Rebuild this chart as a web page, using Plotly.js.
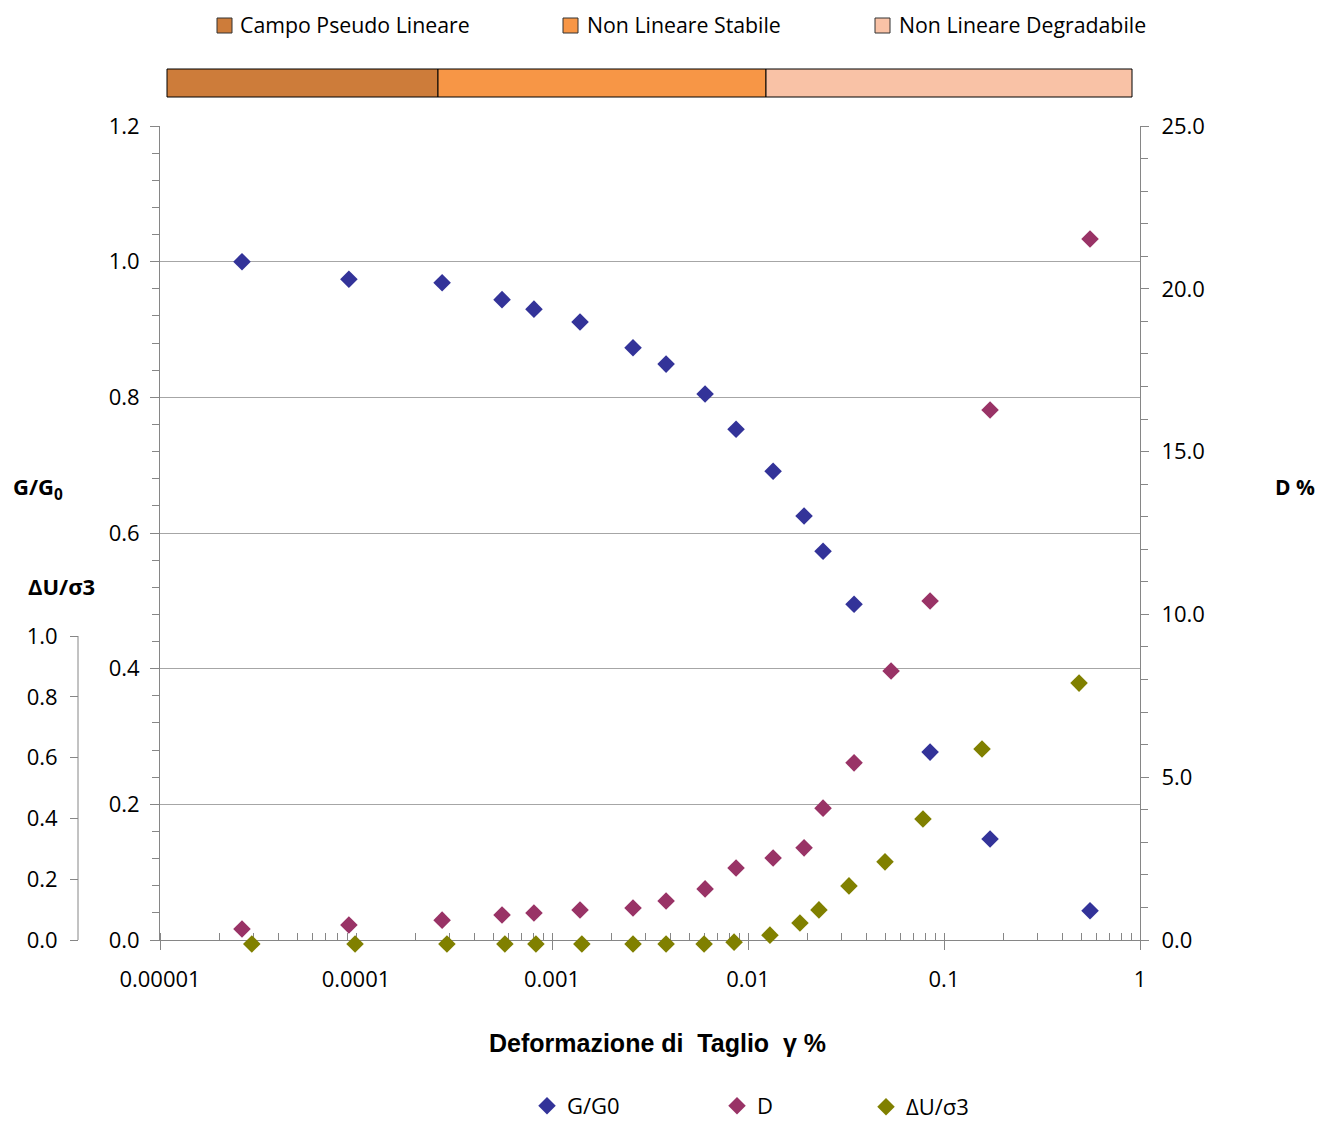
<!DOCTYPE html>
<html>
<head>
<meta charset="utf-8">
<script src="https://cdn.plot.ly/plotly-3.0.1.min.js"></script>
<style>html,body{margin:0;padding:0;background:#fff;}#chart{width:1321px;height:1121px;}</style>
</head>
<body>
<div id="chart"></div>
<script>
// ---- Data ----
const gX = [2.62e-5, 9.2e-5, 2.75e-4, 5.56e-4, 8.09e-4, 1.39e-3, 2.59e-3, 3.82e-3, 6.04e-3, 8.69e-3, 0.01343, 0.01932, 0.02415, 0.03476, 0.0849, 0.1718, 0.556];
const gY = [1.000, 0.974, 0.969, 0.944, 0.930, 0.911, 0.873, 0.849, 0.805, 0.753, 0.691, 0.625, 0.573, 0.495, 0.277, 0.149, 0.043];

const dX = [2.62e-5, 9.2e-5, 2.75e-4, 5.56e-4, 8.09e-4, 1.39e-3, 2.59e-3, 3.82e-3, 6.04e-3, 8.69e-3, 0.01343, 0.01932, 0.02415, 0.03476, 0.0537, 0.0849, 0.1718, 0.556];
const dY = [0.34, 0.46, 0.61, 0.77, 0.83, 0.92, 0.98, 1.20, 1.57, 2.21, 2.52, 2.83, 4.05, 5.44, 8.26, 10.41, 16.28, 21.53];

const uX = [2.94e-5, 9.89e-5, 2.91e-4, 5.75e-4, 8.28e-4, 1.42e-3, 2.59e-3, 3.82e-3, 5.97e-3, 8.49e-3, 0.01294, 0.01841, 0.02301, 0.03275, 0.0500, 0.07811, 0.1563, 0.4887];
const uY = [-0.013, -0.013, -0.013, -0.013, -0.013, -0.013, -0.013, -0.013, -0.013, -0.007, 0.016, 0.056, 0.099, 0.178, 0.257, 0.398, 0.628, 0.845];

const xTickVals = [1e-5, 1e-4, 1e-3, 1e-2, 1e-1, 1];
const xTickText = ['0.00001', '0.0001', '0.001', '0.01', '0.1', '1'];
const uTickVals = [0, 0.2, 0.4, 0.6, 0.8, 1.0];

const seriesNames = ['G/G0', 'D', 'ΔU/σ3'];
const seriesColors = ['#333399', '#993366', '#808000'];

const bandNames = ['Campo Pseudo Lineare', 'Non Lineare Stabile', 'Non Lineare Degradabile'];
const bandColors = ['#CD7C3A', '#F79646', '#F9C2A6'];

// ---- Layout helpers (pixel -> paper) ----
const W = 1321, H = 1121;
const px = v => v / W;
const py = v => (H - v) / H;

const tickFont = {family: 'Open Sans, sans-serif', size: 22, color: '#000'};
const axisGray = '#868686';

const mk = (i) => ({symbol: 'diamond', size: 13.5, color: seriesColors[i], line: {width: 0}});

const traces = [
  {x: gX, y: gY, name: seriesNames[0], type: 'scatter', mode: 'markers', marker: mk(0), xaxis: 'x', yaxis: 'y', cliponaxis: false, legend: 'legend'},
  {x: dX, y: dY, name: seriesNames[1], type: 'scatter', mode: 'markers', marker: mk(1), xaxis: 'x', yaxis: 'y2', cliponaxis: false, legend: 'legend2'},
  {x: uX, y: uY, name: seriesNames[2], type: 'scatter', mode: 'markers', marker: mk(2), xaxis: 'x', yaxis: 'y3', cliponaxis: false, legend: 'legend3'}
];

// band geometry (pixels)
const bandEdges = [167, 438, 766, 1132];
const bandTop = 69, bandBot = 97;
const legSq = [[217, 232], [563, 578], [875, 890]];
const legTextX = [238, 585, 897];

// ΔU axis: 0 at y=940px, 1 at y=636px; range starts slightly below 0 so near-zero points stay visible
const uAxisTop = 636, uAxisZero = 940, uMin = -0.05;
const uAxisBottom = uAxisZero + (-uMin) * (uAxisZero - uAxisTop);

const shapes = [];
const annotations = [];
for (let i = 0; i < 3; i++) {
  shapes.push({type: 'rect', xref: 'paper', yref: 'paper', x0: px(bandEdges[i]), x1: px(bandEdges[i + 1]), y0: py(bandBot), y1: py(bandTop), fillcolor: bandColors[i], line: {color: '#000', width: 1}});
  shapes.push({type: 'rect', xref: 'paper', yref: 'paper', x0: px(legSq[i][0]), x1: px(legSq[i][1]), y0: py(33), y1: py(18), fillcolor: bandColors[i], line: {color: '#333', width: 1}});
  annotations.push({xref: 'paper', yref: 'paper', x: px(legTextX[i]), y: py(25), xanchor: 'left', yanchor: 'middle', showarrow: false, text: bandNames[i], font: {family: 'Open Sans, sans-serif', size: 21.3, color: '#000'}});
}
// ΔU axis line (only from 0 to 1)
shapes.push({type: 'line', xref: 'paper', yref: 'paper', x0: px(78), x1: px(78), y0: py(uAxisZero), y1: py(uAxisTop), line: {color: axisGray, width: 1}});

annotations.push({xref: 'paper', yref: 'paper', x: px(38), y: py(488), xanchor: 'center', yanchor: 'middle', showarrow: false, text: '<b>G/G<sub>0</sub></b>', font: {family: 'Open Sans, sans-serif', size: 22, color: '#000'}});
annotations.push({xref: 'paper', yref: 'paper', x: px(61), y: py(586), xanchor: 'center', yanchor: 'middle', showarrow: false, text: '<b>ΔU/σ3</b>', font: {family: 'Open Sans, sans-serif', size: 22, color: '#000'}});
annotations.push({xref: 'paper', yref: 'paper', x: px(1295), y: py(487), xanchor: 'center', yanchor: 'middle', showarrow: false, text: '<b>D %</b>', font: {family: 'Open Sans, sans-serif', size: 21, color: '#000'}});
annotations.push({xref: 'paper', yref: 'paper', x: px(657), y: py(1043), xanchor: 'center', yanchor: 'middle', showarrow: false, text: '<b>Deformazione di\u00a0 Taglio\u00a0 γ %</b>', font: {family: 'Liberation Sans, Arial, sans-serif', size: 25, color: '#000'}});

const legendBase = {orientation: 'h', yanchor: 'middle', xanchor: 'left', font: {family: 'Open Sans, sans-serif', size: 22, color: '#000'}, bgcolor: 'rgba(0,0,0,0)', borderwidth: 0};

const layout = {
  width: W, height: H,
  margin: {l: 0, r: 0, t: 0, b: 0, pad: 0, autoexpand: false},
  paper_bgcolor: '#fff', plot_bgcolor: 'rgba(0,0,0,0)',
  showlegend: true,
  xaxis: {
    type: 'log', range: [-5, 0], domain: [px(160), px(1140)], anchor: 'y',
    tickmode: 'array', tickvals: xTickVals, ticktext: xTickText,
    showline: true, linecolor: axisGray, linewidth: 1,
    ticks: 'outside', ticklen: 9, tickcolor: axisGray, tickwidth: 1,
    showgrid: false, zeroline: false, tickfont: tickFont, ticklabelstandoff: 11,
    minor: {dtick: 'D1', ticks: 'inside', ticklen: 7, tickcolor: axisGray, showgrid: false}
  },
  // duplicate x axis: inner half of the crossing major ticks
  xaxis2: {
    type: 'log', range: [-5, 0], domain: [px(160), px(1140)], anchor: 'y', overlaying: 'x', side: 'bottom',
    tickmode: 'array', tickvals: xTickVals, showticklabels: false,
    showline: false, ticks: 'inside', ticklen: 6, tickcolor: axisGray,
    showgrid: false, zeroline: false
  },
  yaxis: {
    range: [0, 1.2], domain: [py(940), py(126)], anchor: 'x',
    dtick: 0.2, tick0: 0, tickformat: '.1f',
    showline: true, linecolor: axisGray, linewidth: 1,
    ticks: 'outside', ticklen: 9, tickcolor: axisGray,
    showgrid: true, gridcolor: '#A6A6A6', gridwidth: 1, zeroline: false,
    tickfont: tickFont, ticklabelstandoff: 6,
    minor: {dtick: 0.04, ticks: 'outside', ticklen: 7, tickcolor: axisGray, showgrid: false}
  },
  yaxis4: {
    range: [0, 1.2], domain: [py(940), py(126)], anchor: 'x', overlaying: 'y', side: 'left',
    dtick: 0.2, tick0: 0, showticklabels: false,
    showline: false, ticks: 'inside', ticklen: 8, tickcolor: axisGray,
    showgrid: false, zeroline: false
  },
  yaxis2: {
    range: [0, 25], overlaying: 'y', side: 'right', anchor: 'x',
    dtick: 5, tick0: 0, tickformat: '.1f',
    showline: true, linecolor: axisGray, linewidth: 1,
    ticks: 'outside', ticklen: 8, tickcolor: axisGray,
    showgrid: false, zeroline: false, tickfont: tickFont, ticklabelstandoff: 8,
    minor: {dtick: 1, ticks: 'outside', ticklen: 7, tickcolor: axisGray, showgrid: false}
  },
  yaxis3: {
    range: [uMin, 1], domain: [py(uAxisBottom), py(uAxisTop)], anchor: 'free', position: px(78), side: 'left',
    tickmode: 'array', tickvals: uTickVals, tickformat: '.1f',
    showline: false,
    ticks: 'outside', ticklen: 8, tickcolor: axisGray,
    showgrid: false, zeroline: false, tickfont: tickFont, ticklabelstandoff: 8
  },
  legend: Object.assign({x: px(527), y: py(1106)}, legendBase),
  legend2: Object.assign({x: px(717), y: py(1106)}, legendBase),
  legend3: Object.assign({x: px(866), y: py(1107)}, legendBase),
  shapes: shapes,
  annotations: annotations
};

Plotly.newPlot('chart', traces, layout, {displayModeBar: false, staticPlot: true});
</script>
</body>
</html>
